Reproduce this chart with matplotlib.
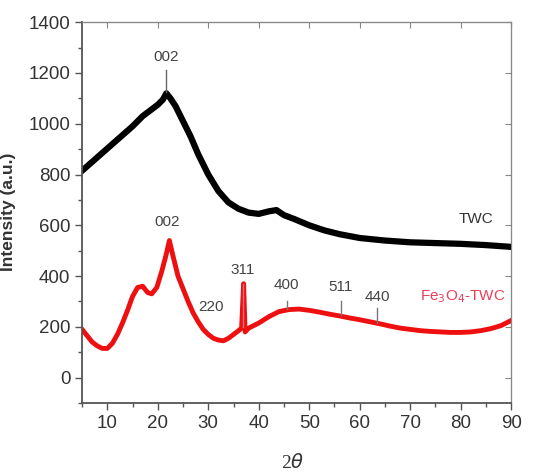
import matplotlib.pyplot as plt
from matplotlib.ticker import MultipleLocator

# TWC pattern (black)
twc_x = [5, 7, 9, 11, 13, 15, 17, 19, 20, 21, 21.7, 22.5, 23.5, 25, 26.5, 28, 30, 32, 34,
         36, 38, 40, 42, 43.5, 45, 47, 50, 53, 56, 60, 65, 70, 75, 80, 85, 90]
twc_y = [815, 850, 885, 920, 955, 990, 1030, 1060, 1075, 1095, 1120, 1100, 1070, 1010, 950,
         880, 800, 735, 690, 665, 650, 645, 655, 660, 640, 625, 600, 580, 565, 550, 540,
         533, 530, 527, 522, 515]

# Fe3O4-TWC pattern (red)
fe_x = [5, 6, 7, 8, 9, 10, 11, 12, 13, 14, 15, 16, 17, 18, 18.8, 19.8, 20.8, 21.6, 22.3, 23,
        24, 25, 26, 27, 28, 29, 30, 31, 32, 33, 34, 35, 36, 36.6, 37.0, 37.3, 38, 40, 42, 44,
        46, 48, 50, 52, 54, 56, 58, 60, 62, 64, 66, 68, 70, 72, 74, 76, 78, 80, 82, 84, 86,
        88, 90]
fe_y = [190, 165, 140, 125, 115, 115, 135, 170, 215, 265, 320, 355, 360, 335, 330, 355, 420,
        480, 540, 480, 400, 350, 300, 255, 220, 190, 170, 155, 148, 145, 155, 170, 185, 195,
        370, 180, 195, 215, 240, 260, 268, 270, 265, 258, 250, 243, 235, 228, 220, 212, 203,
        195, 190, 185, 182, 180, 178, 178, 180, 185, 193, 205, 225]

# peak labels: (text, x, y of text, marker bottom, marker top)
twc_peaks = [('002', 21.7, 1263, 1125, 1210)]
fe_peaks = [('002', 21.9, 612, None, None),
            ('220', 30.5, 277, None, None),
            ('311', 36.9, 422, 200, 370),
            ('400', 45.5, 363, 270, 300),
            ('511', 56.2, 356, 245, 300),
            ('440', 63.5, 317, 215, 275)]

plt.rcParams['font.family'] = ['Liberation Sans', 'DejaVu Sans']
fig = plt.figure(figsize=(5.33, 4.73), dpi=100)
ax = fig.add_axes([0.154, 0.148, 0.805, 0.805])

ax.plot(twc_x, twc_y, color='black', lw=4.5, solid_joinstyle='round')
ax.plot(fe_x, fe_y, color='#ee1010', lw=3.5, solid_joinstyle='round')

for lab, x, ty, b, t in twc_peaks:
    ax.text(x, ty, lab, ha='center', va='center', fontsize=11, color='#444444')
    ax.plot([x, x], [b, t], color='#666666', lw=1)
for lab, x, ty, b, t in fe_peaks:
    ax.text(x, ty, lab, ha='center', va='center', fontsize=11, color='#444444')
    if b is not None:
        ax.plot([x, x], [b, t], color='#e07080' if lab == '311' else '#777777', lw=1)

ax.text(83.1, 626, 'TWC', ha='center', va='center', fontsize=11, color='#333333')
ax.text(80.4, 317, 'Fe$_3$O$_4$-TWC', ha='center', va='center', fontsize=11, color='#e8405a')

ax.set_xlim(5, 90)
ax.set_ylim(-100, 1400)
ax.xaxis.set_major_locator(MultipleLocator(10))
ax.xaxis.set_minor_locator(MultipleLocator(5))
ax.yaxis.set_major_locator(MultipleLocator(200))
ax.yaxis.set_minor_locator(MultipleLocator(100))
ax.tick_params(which='both', direction='out', colors='#555555', labelcolor='#333333',
               labelsize=13.5, width=1)
ax.tick_params(which='major', length=5)
ax.tick_params(which='minor', length=3)
# top and right axes carry small inward ticks
sec_x = ax.secondary_xaxis('top')
sec_x.xaxis.set_major_locator(MultipleLocator(10))
sec_x.tick_params(direction='in', length=4, colors='#888888', labeltop=False)
sec_y = ax.secondary_yaxis('right')
sec_y.yaxis.set_major_locator(MultipleLocator(200))
sec_y.tick_params(direction='in', length=4, colors='#888888', labelright=False)
for side in ['top', 'right']:
    ax.spines[side].set_color('#888888')
for side in ['left', 'bottom']:
    ax.spines[side].set_color('#555555')
    ax.spines[side].set_linewidth(1.3)

fig.text(9 / 533, 1 - 212 / 473, 'Intensity (a.u.)', rotation=90, ha='center', va='center',
         fontsize=12.5, fontweight='bold', color='#333333')
fig.text(293 / 533, 1 - 462 / 473, r'2$\theta$', ha='center', va='center', fontsize=14,
         family='Liberation Serif', color='#333333')

fig.savefig('out.png', dpi=100)
